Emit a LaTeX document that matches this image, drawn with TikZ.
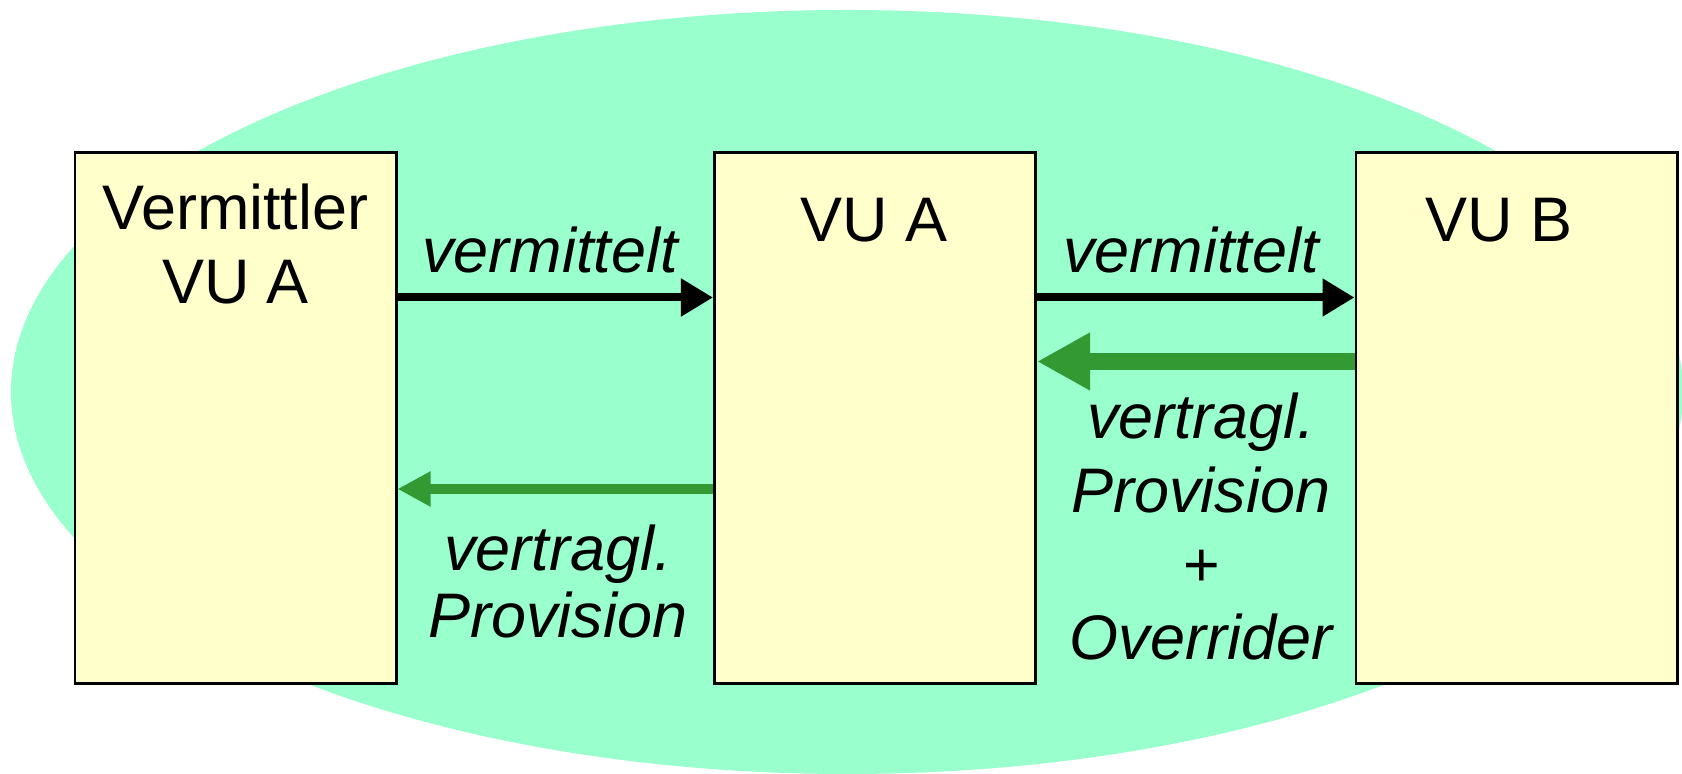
\documentclass[tikz,border=0pt]{standalone}
\usepackage{fontspec}
\setmainfont{Liberation Sans}
\usetikzlibrary{arrows.meta}
\definecolor{mint}{RGB}{153,255,204}
\definecolor{paleyellow}{RGB}{255,255,204}
\definecolor{leafgreen}{RGB}{51,153,51}
\tikzset{
  party/.style={draw=black, line width=0.8pt, fill=paleyellow, inner sep=0pt,
    minimum width=3.21cm, minimum height=5.30cm},
  % multi-line nodes are anchored at the baseline of their last line
  boxtext/.style={anchor=base, inner sep=0pt, align=center,
    font=\fontsize{17.9}{21.3}\selectfont},
  flowlabel/.style={anchor=base, inner sep=0pt, align=center,
    font=\fontsize{17.9}{21}\selectfont\itshape},
  mediates/.style={draw=black, line width=0.08cm,
    -{Triangle[length=0.32cm,width=0.36cm]}},
  commission/.style={draw=leafgreen, line width=0.10cm,
    -{Triangle[length=0.33cm,width=0.33cm]}},
  bigcommission/.style={draw=leafgreen, line width=0.17cm,
    -{Triangle[length=0.53cm,width=0.54cm]}}
}
\begin{document}
\begin{tikzpicture}[x=0.01cm,y=-0.01cm]
  \useasboundingbox (0,0) rectangle (1682,774);
  \clip (0,0) rectangle (1682,774);

  % background group
  \fill[mint] (847,392) ellipse [x radius=836, y radius=382];

  % the three parties
  \node[party] (vm) at (235.5,418) {};
  \node[party] (vua) at (875,418) {};
  \node[party] (vub) at (1516.5,418) {};

  \node[boxtext] (vmtext) at (235.5,304) {Vermittler\\VU A};
  \node[boxtext] (vuatext) at (874,242) {VU A};
  \node[boxtext] (vubtext) at (1499,242) {VU B};

  % rows of the connectors
  \coordinate (rowmed) at (0,297.5);
  \coordinate (rowbig) at (0,361.5);
  \coordinate (rowcom) at (0,489);

  \draw[mediates] (vm.east |- rowmed) -- (vua.west |- rowmed);
  \draw[mediates] (vua.east |- rowmed) -- (vub.west |- rowmed);
  \draw[bigcommission] (vub.west |- rowbig) -- (vua.east |- rowbig);
  \draw[commission] (vua.west |- rowcom) -- (vm.east |- rowcom);

  % labels
  \node[flowlabel] (lmed1) at (550,273) {vermittelt};
  \node[flowlabel] (lmed2) at (1191,273) {vermittelt};
  \node[flowlabel, font=\fontsize{17.9}{19.1}\selectfont\itshape] (lcom) at (558,638) {vertragl.\\Provision};
  \node[flowlabel] (lbig) at (1201,660) {vertragl.\\Provision\\+\\Overrider};
\end{tikzpicture}
\end{document}
